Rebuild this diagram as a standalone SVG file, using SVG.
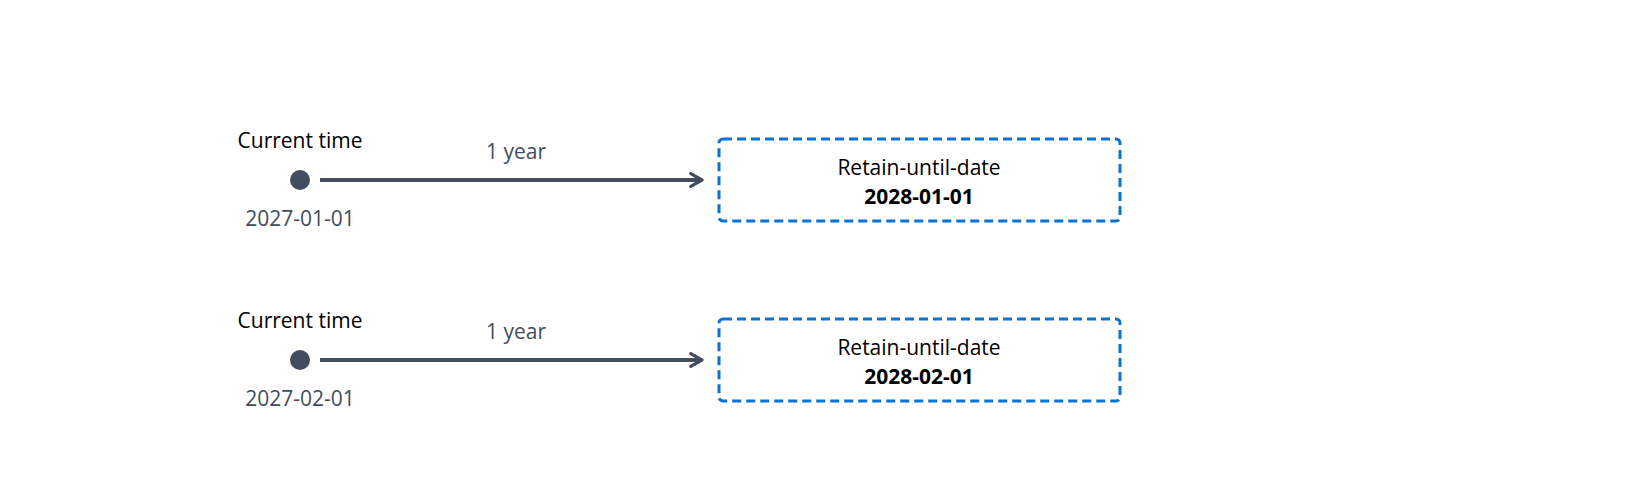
<svg xmlns="http://www.w3.org/2000/svg" width="1640" height="480" viewBox="0 0 1640 480">
<style>
text{font-family:"Open Sans","Noto Sans",sans-serif;font-size:21px;text-anchor:middle}
.t{fill:#000}
.g{fill:#414d5c}
.b{font-weight:bold;fill:#000}
.box{fill:#fff;stroke:#0972d3;stroke-width:3;stroke-dasharray:9 5}
.ln{stroke:#414d5c;stroke-width:4;fill:none}
</style>
<defs><marker id="a" viewBox="0 0 10 10" refX="8" refY="5" markerWidth="4" markerHeight="4" orient="auto" markerUnits="strokeWidth"><path d="M1 1 L8 5 L1 9" fill="none" stroke="#414d5c" stroke-width="2" stroke-linecap="round" stroke-linejoin="round"/></marker></defs>
<rect width="1640" height="480" fill="#fff"/>
<g id="connectors">
<path class="ln" d="M320 180 H702" marker-end="url(#a)"/>
<path class="ln" d="M320 360 H702" marker-end="url(#a)"/>
</g>
<g id="start1"><text class="t" x="300" y="148">Current time</text><circle cx="300" cy="180" r="10" fill="#414d5c"/><text class="g" x="300" y="226">2027-01-01</text><text class="g" x="516" y="159">1 year</text></g>
<g id="box1"><rect class="box" x="719" y="139" width="401" height="82" rx="4"/><text class="t" x="919" y="175">Retain-until-date</text><text class="b" x="919" y="204">2028-01-01</text></g>
<g id="start2"><text class="t" x="300" y="328">Current time</text><circle cx="300" cy="360" r="10" fill="#414d5c"/><text class="g" x="300" y="406">2027-02-01</text><text class="g" x="516" y="339">1 year</text></g>
<g id="box2"><rect class="box" x="719" y="319" width="401" height="82" rx="4"/><text class="t" x="919" y="355">Retain-until-date</text><text class="b" x="919" y="384">2028-02-01</text></g>
</svg>
